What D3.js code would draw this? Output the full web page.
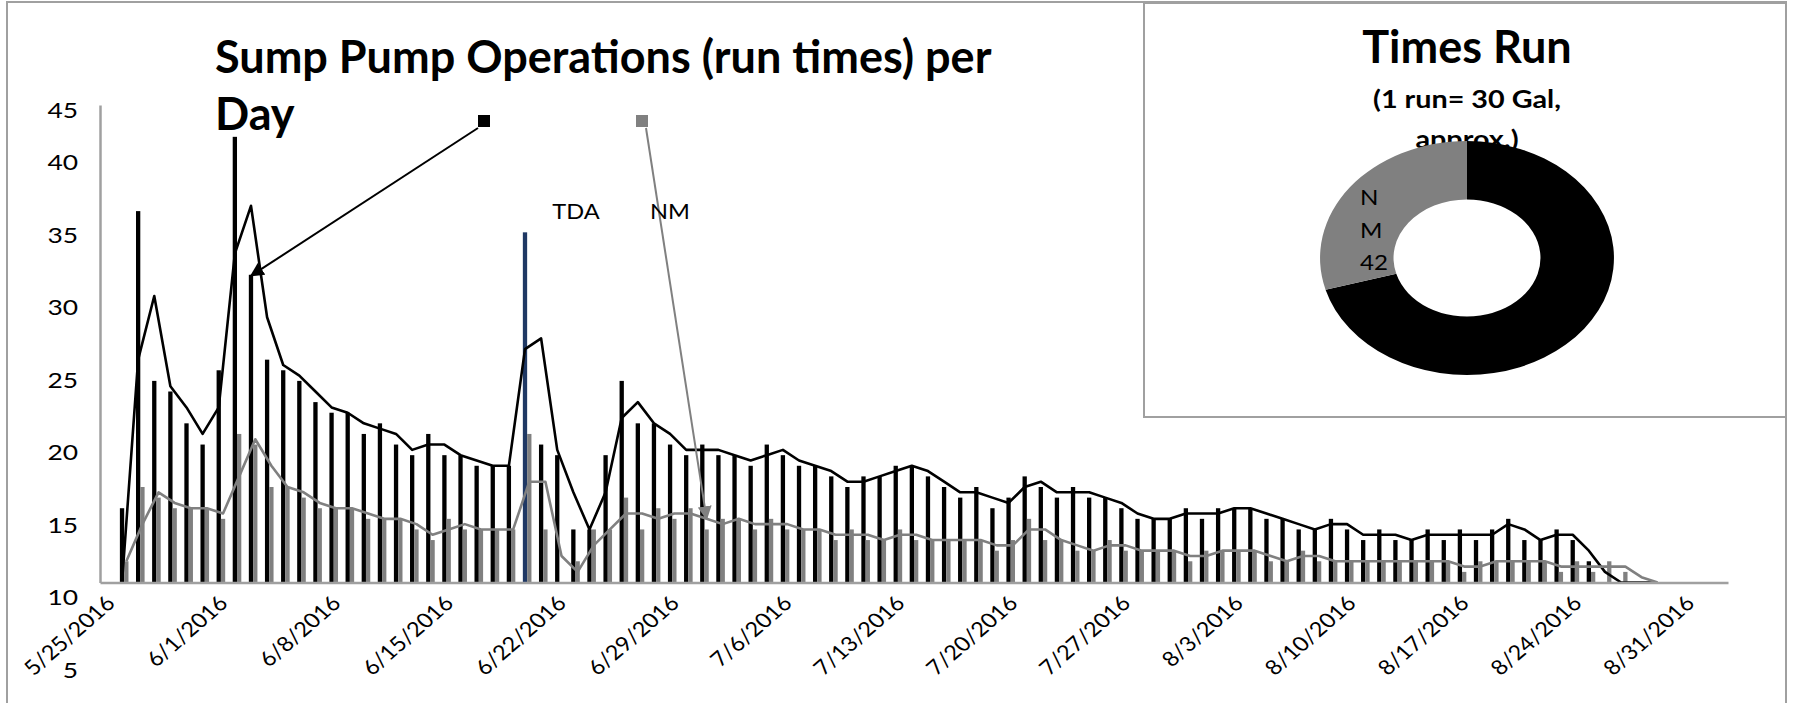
<!DOCTYPE html>
<html><head><meta charset="utf-8">
<script src="https://cdn.jsdelivr.net/npm/d3@7"></script>
<style>body{margin:0;background:#fff;overflow:hidden}</style>
</head><body>
<svg id="c" width="1796" height="703"></svg>
<script>
// ---------------- data ----------------
const firstDay = "2016-05-26";
const tdaRuns = [7,35,19,18,15,13,20,42,29,21,
 20,19,17,16,16,14,15,13,12,14,
 12,12,11,11,11,33,13,12,5,5,
 12,19,15,15,13,12,13,12,12,11,
 13,12,11,11,10,9,10,10,11,11,
 10,9,8,9,7,8,10,9,8,9,
 8,8,7,6,6,6,7,6,7,7,
 7,6,6,5,5,6,5,4,5,4,
 4,5,4,5,4,5,6,4,4,5,
 4,2,0,0,0,0];
const nmRuns = [2,9,8,7,7,7,6,14,13,9,
 9,8,7,7,7,6,6,6,5,4,
 6,5,5,5,5,14,5,0,2,5,
 5,8,5,7,6,7,5,6,6,5,
 6,5,5,5,4,5,4,4,5,4,
 4,4,4,4,3,4,6,4,4,3,
 3,4,3,3,3,3,2,3,3,3,
 3,2,2,3,2,2,2,2,2,2,
 2,2,2,1,2,2,2,2,2,1,
 2,1,2,1,0,0];
const highlightDay = 25;            // bar drawn in blue
const trendPeriod = 2;              // moving-average trendline period
const trendFirstPoint = [0, 2];     // first plotted trend values (TDA, NM)
const yTickLabels = [5,10,15,20,25,30,35,40,45];
const xTickDates = ["2016-05-25","2016-06-01","2016-06-08","2016-06-15","2016-06-22","2016-06-29",
  "2016-07-06","2016-07-13","2016-07-20","2016-07-27","2016-08-03","2016-08-10","2016-08-17",
  "2016-08-24","2016-08-31"];
const seriesNames = ["TDA","NM"];
const donutNames = ["TDA","NM"];
const donutValues = [101, 42];
const mainTitle = ["Sump Pump Operations (run times) per","Day"];
const donutTitle = "Times Run";
const donutSubtitle = ["(1 run= 30 Gal,","approx.)"];

// ---------------- layout ----------------
const FONT = "Lato, 'Open Sans', sans-serif";
const SX = 1.15;
const svg = d3.select("#c");
const parse = d3.timeParse("%Y-%m-%d");
const d0 = parse(firstDay);
const days = tdaRuns.map((_, i) => d3.timeDay.offset(d0, i));

const x = d3.scaleTime().domain([new Date(2016,4,24,12), new Date(2016,8,2,12)]).range([100,1728]);
const y = d3.scaleLinear().domain([0,45]).range([582.5,105]);
const yLab = d3.scaleLinear().domain([0,45]).range([742.5,90]);
const barW = 4.3;

function trend(vals, first){
  return vals.map((v,i)=> i < trendPeriod-1 ? first : d3.mean(vals.slice(i-trendPeriod+1, i+1)));
}

// outer frame
svg.append("rect").attr("x",7).attr("y",2).attr("width",1779).attr("height",760)
  .attr("fill","none").attr("stroke","#a0a0a0").attr("stroke-width",2);

const g = svg.append("g");

// bars
g.selectAll("rect.tda").data(tdaRuns).join("rect").attr("class","tda")
  .attr("x",(v,i)=>x(days[i])-barW).attr("width",barW)
  .attr("y",v=>y(v)).attr("height",v=>y(0)-y(v))
  .attr("fill",(v,i)=> i===highlightDay ? "#1f3864" : "#000");
g.selectAll("rect.nm").data(nmRuns).join("rect").attr("class","nm")
  .attr("x",(v,i)=>x(days[i])).attr("width",barW)
  .attr("y",v=>y(v)).attr("height",v=>y(0)-y(v))
  .attr("fill","#808080");

// trend lines
const tdaTrend = trend(tdaRuns, trendFirstPoint[0]), nmTrend = trend(nmRuns, trendFirstPoint[1]);
const line = off => d3.line().defined(d=>d!=null).x((d,i)=>x(days[i])+off).y(d=>y(d));
g.append("path").attr("d",line(-barW/2)(tdaTrend)).attr("fill","none").attr("stroke","#000").attr("stroke-width",2.6).attr("stroke-linejoin","round");
g.append("path").attr("d",line(barW/2)(nmTrend)).attr("fill","none").attr("stroke","#808080").attr("stroke-width",2.6).attr("stroke-linejoin","round");

// axes
const xAxis = g.append("g").attr("transform",`translate(0,${y(0)})`)
  .call(d3.axisBottom(x).tickValues(xTickDates.map(parse)).tickSize(0).tickFormat(d3.timeFormat("%-m/%-d/%Y")));
xAxis.select(".domain").attr("stroke","#a0a0a0").attr("stroke-width",2.5);
xAxis.selectAll("text").attr("font-family",FONT).attr("font-size",20.5).attr("fill","#000")
  .attr("text-anchor","end").attr("dy","0.35em").attr("y",0)
  .attr("transform",`translate(2,17) scale(${SX},1) rotate(-45)`);

const yAxis = g.append("g").attr("transform","translate(100,0)")
  .call(d3.axisLeft(y).tickValues([]).tickSizeOuter(0));
yAxis.select(".domain").attr("stroke","#a0a0a0").attr("stroke-width",2.5);
g.selectAll("text.ylab").data(yTickLabels).join("text").attr("class","ylab")
  .attr("transform",v=>`translate(78,${Math.max(yLab(v),110)}) scale(1.2,1)`)
  .attr("dy","0.35em").attr("text-anchor","end")
  .attr("font-family",FONT).attr("font-size",22).text(v=>v);

// title
mainTitle.forEach((t,k)=>{
  svg.append("text").attr("transform",`translate(215,${73+k*57}) `)
    .attr("font-family",FONT).attr("font-weight","bold").attr("font-size",45).text(t);
});

// series label callouts
const markers = [
  {name:seriesNames[0], color:"#000", mx:484, my:121, lx:576,
   tip:[x(days[8])-barW/2, y(tdaRuns[8])+1]},
  {name:seriesNames[1], color:"#808080", mx:642, my:121, lx:670,
   tip:[x(days[36])+barW/2, y(nmTrend[36])]}
];
const defs = svg.append("defs");
markers.forEach((m,k)=>{
  defs.append("marker").attr("id","ah"+k).attr("viewBox","0 0 10 10").attr("refX",9).attr("refY",5)
    .attr("markerWidth",7).attr("markerHeight",7).attr("orient","auto-start-reverse")
    .append("path").attr("d","M0,0L10,5L0,10z").attr("fill",m.color);
  svg.append("rect").attr("x",m.mx-6).attr("y",m.my-6).attr("width",12).attr("height",12).attr("fill",m.color);
  const sx0 = m.mx + (k===0 ? -6 : 4), sy0 = m.my + 7;
  svg.append("line").attr("x1",sx0).attr("y1",sy0).attr("x2",m.tip[0]).attr("y2",m.tip[1])
    .attr("stroke",m.color).attr("stroke-width",2).attr("marker-end",`url(#ah${k})`);
  svg.append("text").attr("transform",`translate(${m.lx},212) scale(${SX},1)`).attr("text-anchor","middle")
    .attr("dy","0.35em").attr("font-family",FONT).attr("font-size",20.5).text(m.name);
});

// donut box
const box = svg.append("g");
box.append("rect").attr("x",1144).attr("y",3).attr("width",642).attr("height",414)
  .attr("fill","#fff").attr("stroke","#a0a0a0").attr("stroke-width",2);
box.append("text").attr("transform",`translate(1467,63)`).attr("text-anchor","middle")
  .attr("font-family",FONT).attr("font-weight","bold").attr("font-size",45).text(donutTitle);
donutSubtitle.forEach((t,k)=>{
  box.append("text").attr("transform",`translate(1467,${108+k*40}) scale(${SX},1)`).attr("text-anchor","middle")
    .attr("font-family",FONT).attr("font-weight","bold").attr("font-size",25).text(t);
});
const pie = d3.pie().sort(null).value(d=>d);
const arc = d3.arc().innerRadius(58.5).outerRadius(117);
const dg = box.append("g").attr("transform","translate(1467,258) scale(1.256,1)");
dg.selectAll("path").data(pie(donutValues)).join("path").attr("d",arc)
  .attr("fill",(d,i)=> i===0 ? "#000" : "#808080");
const lab = (donutNames[1].split("")).concat([String(donutValues[1])]);
box.selectAll("text.dl").data(lab).join("text").attr("class","dl")
  .attr("transform",(t,k)=>`translate(1360,${205+k*32.5}) scale(${SX},1)`)
  .attr("font-family",FONT).attr("font-size",21).text(t=>t);
</script>
</body></html>
